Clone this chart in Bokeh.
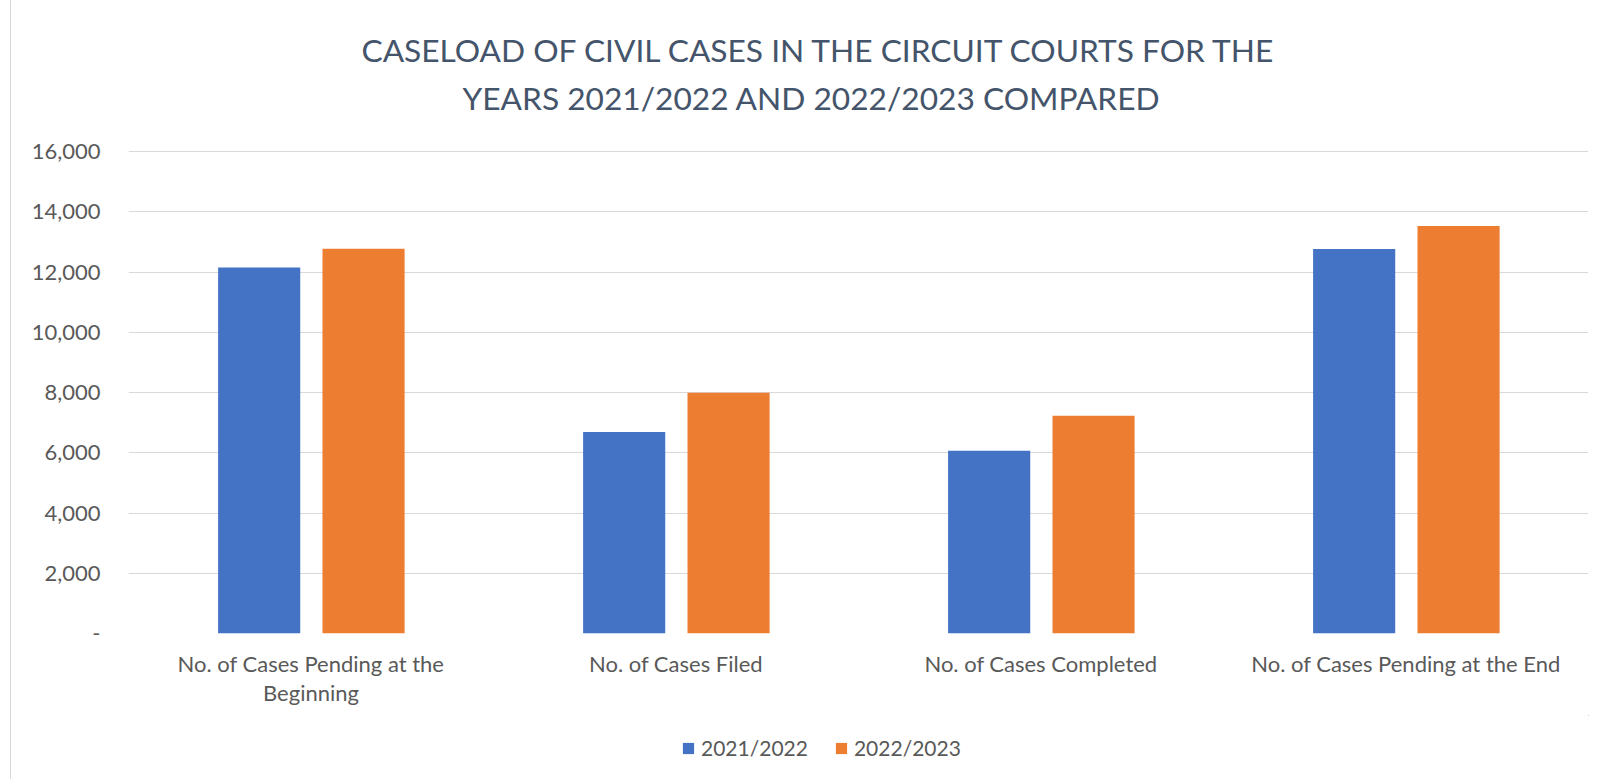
from bokeh.plotting import figure
from bokeh.layouts import column
from bokeh.models import (ColumnDataSource, Range1d, FixedTicker, NumeralTickFormatter,
                          Legend, LegendItem, Title, LinearAxis)
from bokeh.transform import dodge
from bokeh.embed import file_html
from bokeh.resources import INLINE

# ---- data ----
categories = ["No. of Cases Pending at the Beginning", "No. of Cases Filed",
              "No. of Cases Completed", "No. of Cases Pending at the End"]
label_line1 = ["No. of Cases Pending at the", "No. of Cases Filed",
               "No. of Cases Completed", "No. of Cases Pending at the End"]
label_line2 = ["Beginning", "", "", ""]
series_names = ["2021/2022", "2022/2023"]
values_2021_2022 = [12150, 6690, 6070, 12760]
values_2022_2023 = [12770, 7990, 7230, 13530]
y_ticks = [0, 2000, 4000, 6000, 8000, 10000, 12000, 14000, 16000]
title_lines = ["CASELOAD OF CIVIL CASES IN THE CIRCUIT COURTS FOR THE",
               "YEARS 2021/2022 AND 2022/2023 COMPARED"]

FONT = "Lato"
GREY = "#595959"
BLUE = "#4472C4"
ORANGE = "#ED7D31"
FS = "22px"

# layout constants (pixels)
W = 1585
H_MAIN = 715
H_LEG = 64
FRAME_TOP = 120      # frame top
FRAME_BOT = 633      # value 0
TOP_TICK_PX = 151    # where the highest tick sits

idx = list(range(len(categories)))
source = ColumnDataSource(dict(x=idx, a=values_2021_2022, b=values_2022_2023))

y_end = y_ticks[-1] * (FRAME_BOT - FRAME_TOP) / (FRAME_BOT - TOP_TICK_PX)

p = figure(width=W, height=H_MAIN, x_range=Range1d(-0.5, len(categories) - 0.5),
           y_range=Range1d(0, y_end), output_backend="svg", toolbar_location=None,
           min_border_left=117, min_border_right=8, min_border_top=FRAME_TOP,
           min_border_bottom=H_MAIN - FRAME_BOT)
p.outline_line_color = None
p.background_fill_color = "white"
p.border_fill_color = "white"

r1 = p.vbar(x=dodge("x", -0.142), top="a", width=0.225, source=source,
            color=BLUE, line_color=None)
r2 = p.vbar(x=dodge("x", 0.144), top="b", width=0.225, source=source,
            color=ORANGE, line_color=None)

# y axis
p.yaxis.ticker = FixedTicker(ticks=y_ticks)
p.yaxis.formatter = NumeralTickFormatter(format="0,0")
p.yaxis.major_label_overrides = {0: "-"}
p.yaxis.axis_line_color = None
p.yaxis.major_tick_line_color = None
p.yaxis.minor_tick_line_color = None
p.yaxis.major_tick_out = 0
p.yaxis.major_tick_in = 0
p.yaxis.major_label_standoff = 28
p.yaxis.major_label_text_font = FONT
p.yaxis.major_label_text_font_size = FS
p.yaxis.major_label_text_color = GREY


def style_xaxis(ax, labels, standoff):
    ax.ticker = FixedTicker(ticks=idx)
    ax.major_label_overrides = dict(zip(idx, labels))
    ax.axis_line_color = None
    ax.major_tick_line_color = None
    ax.minor_tick_line_color = None
    ax.major_tick_out = 0
    ax.major_tick_in = 0
    ax.major_label_standoff = standoff
    ax.major_label_text_font = FONT
    ax.major_label_text_font_size = FS
    ax.major_label_text_color = GREY


style_xaxis(p.xaxis[0], label_line1, 16)
xa2 = LinearAxis()
style_xaxis(xa2, label_line2, -1)
p.add_layout(xa2, "below")

p.xgrid.grid_line_color = None
p.ygrid.grid_line_color = "#d9d9d9"
p.ygrid.grid_line_width = 1
p.ygrid.ticker = FixedTicker(ticks=y_ticks)

# title: second line closest to the plot, first line above it
for txt, off in [(title_lines[1], 334), (title_lines[0], 233)]:
    p.add_layout(Title(text=txt, align="left", offset=off, standoff=8,
                       text_font=FONT, text_font_size="31.7px", text_font_style="normal",
                       text_color="#44546A"), "above")

# legend in a strip below the chart (its frame is aligned with the chart's frame)
leg = figure(width=W, height=H_LEG, x_range=Range1d(-100, -99), y_range=Range1d(-2, -1),
             output_backend="svg", toolbar_location=None,
             min_border_left=0, min_border_right=0, min_border_top=0, min_border_bottom=0)
leg.axis.visible = False
leg.grid.visible = False
leg.outline_line_color = None
l1 = leg.vbar(x="x", top="a", width=0, source=source, color=BLUE, line_color=None)
l2 = leg.vbar(x="x", top="b", width=0, source=source, color=ORANGE, line_color=None)
legend = Legend(items=[LegendItem(label=series_names[0], renderers=[l1]),
                       LegendItem(label=series_names[1], renderers=[l2])],
                orientation="horizontal", location=(553, 19),
                glyph_width=14, glyph_height=14, label_standoff=6, spacing=26,
                padding=0, margin=0, border_line_color=None, background_fill_alpha=0,
                label_text_font=FONT, label_text_font_size="21px", label_text_color=GREY)
leg.add_layout(legend, "center")

layout = column(p, leg, spacing=0,
                styles={"margin-left": "10px", "border-left": "1px solid #d9d9d9"})

open("out.html", "w").write(file_html(layout, INLINE))
